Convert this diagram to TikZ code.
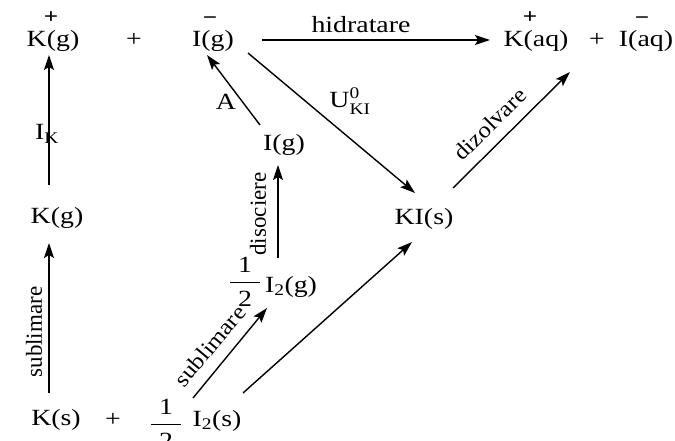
\documentclass[tikz,border=0pt]{standalone}
\usepackage{amsmath}
\usepackage{fontspec}
\setmainfont[FakeStretch=1.2]{Liberation Serif}
\newfontfamily\vfont{Liberation Serif}
\newfontfamily\dfont[FakeStretch=1.1]{Liberation Serif}
\usetikzlibrary{arrows.meta,calc}
\newcommand\halffrac{\ensuremath{\dfrac{\makebox[30pt]{1}}{\makebox[30pt]{2}}}}
\begin{document}
\begin{tikzpicture}[x=1pt,y=-1pt,
  every node/.style={inner sep=0pt,outer sep=0pt},
  txt/.style={font=\fontsize{23.2}{27}\selectfont,anchor=base},
  chg/.style={font=\bfseries\fontsize{21}{22}\selectfont},
  vlab/.style={font=\vfont\fontsize{23}{27}\selectfont,rotate=90},
  dlab/.style={font=\dfont\fontsize{22.5}{27}\selectfont},
  arr/.style={line width=1.4pt,-{Stealth[length=15pt,width=10pt,inset=3pt]}}]
\useasboundingbox (0,0) rectangle (675,441);
% top row
\node[txt] (Kpg) at (53,47) {K(g)};
\node[chg] (Kpgc) at (51,18) {+};
\node[txt] (plus1) at (134,47) {+};
\node[txt] (Img) at (213,47) {I(g)};
\node[chg] (Imgc) at (210,21) {−};
\node[txt] (Kaq) at (536,47) {K(aq)};
\node[chg] (Kaqc) at (530,18) {+};
\node[txt] (plus2) at (597,47) {+};
\node[txt] (Iaq) at (646,47) {I(aq)};
\node[chg] (Iaqc) at (642,21) {−};
% middle
\node[txt] (IK) at (47,140) {I\textsubscript{K}};
\node[txt] (Kg) at (57,223) {K(g)};
\node[txt] (Ig) at (284,150) {I(g)};
\node[txt] (KIs) at (424,224) {KI(s)};
\node[txt] (A) at (226,110) {A};
\node[txt] (U) at (350,108) {U$^{\text{0}}_{\text{KI}}$};
\node[txt] (hid) at (361,33) {hidratare};
% I2(g)
\node[txt] (h2) at (245,289) {\halffrac};
\node[txt] (I2g) at (291,292) {I\textsubscript{2}(g)};
% bottom row
\node[txt] (Ks) at (56,425) {K(s)};
\node[txt] (plus3) at (113,426) {+};
\node[txt] (h1) at (166,431) {\halffrac};
\node[txt] (I2s) at (217,426) {I\textsubscript{2}(s)};
% rotated labels
\node[vlab] (sub1) at (34,332) {sublimare};
\node[vlab] (dis) at (258,214) {disociere};
\node[dlab,rotate=50] (sub2) at (210,346) {sublimare};
\node[dlab,rotate=45] (diz) at (490,124) {dizolvare};
% arrows
\draw[arr] ($(Kg.base)+(-8,-38)$) -- ($(Kpg.base)+(-4,8)$);
\draw[arr] ($(Ks.base)+(-7,-32)$) -- ($(Kg.base)+(-8,20)$);
\draw[arr] ($(I2s.base)+(-24,-28)$) -- ($(I2g.base)+(-24,16)$);
\draw[arr] ($(I2s.base)+(26,-33)$) -- ($(KIs.base)+(-12,18)$);
\draw[arr] ($(I2g.base)+(-13,-34)$) -- ($(Ig.base)+(-6,15)$);
\draw[arr] ($(Ig.base)+(-24,-25)$) -- ($(Img.base)+(-6,8)$);
\draw[arr] ($(Img.base)+(35,6)$) -- ($(KIs.base)+(-9,-31)$);
\draw[arr] ($(KIs.base)+(29,-36)$) -- ($(Kaq.base)+(34,25)$);
\draw[arr] ($(Img.base)+(49,-7)$) -- ($(Kaq.base)+(-46,-7)$);
\end{tikzpicture}
\end{document}
